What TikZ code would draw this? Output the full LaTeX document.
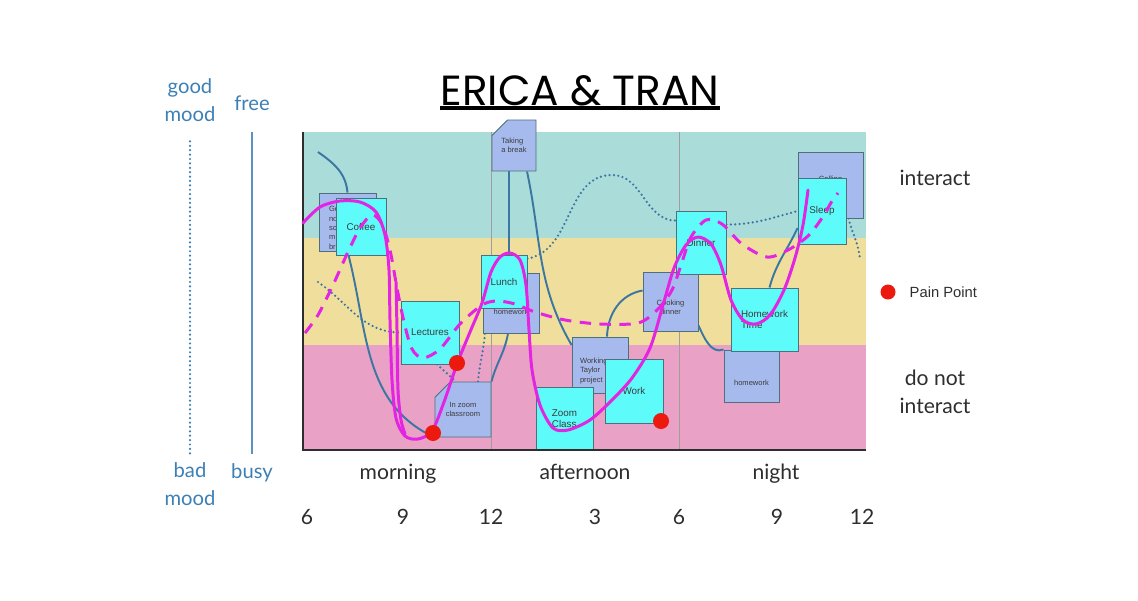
\documentclass[tikz,border=0pt]{standalone}
\usepackage{fontspec}
\setmainfont{Lato}
\newfontfamily\notefont{Liberation Sans}
\newfontfamily\titlefont{Poppins}
\definecolor{bandteal}{HTML}{AADCDA}
\definecolor{bandyellow}{HTML}{F0DF9C}
\definecolor{bandpink}{HTML}{E9A1C5}
\definecolor{notecyan}{HTML}{5EFBFB}
\definecolor{notelav}{HTML}{A6BAEE}
\definecolor{noteedge}{HTML}{4F6F7A}
\definecolor{notetext}{HTML}{3C3C3C}
\definecolor{curveblue}{HTML}{3B77A2}
\definecolor{labelblue}{HTML}{3D80B6}
\definecolor{inkpink}{HTML}{E324E3}
\definecolor{painred}{HTML}{EC1A0E}
\definecolor{axistext}{HTML}{2E2E2E}
\definecolor{sepgray}{gray}{0.62}
\usetikzlibrary{positioning, shapes.misc}
\pgfdeclarelayer{bands}
\pgfdeclarelayer{lines}
\pgfdeclarelayer{ink}
\pgfsetlayers{bands,lines,main,ink}

\begin{document}
\begin{tikzpicture}[x=0.02cm, y=-0.02cm,
	note/.style={draw=noteedge, line width=0.5pt, inner sep=0pt, align=center, text=notetext, font=\notefont\fontsize{5.6}{6.6}\selectfont},
	notesize/.style 2 args={minimum width=#1*0.02cm, minimum height=#2*0.02cm},
	cyannote/.style={note, fill=notecyan},
	lavnote/.style={note, fill=notelav, font=\notefont\fontsize{4.3}{5.3}\selectfont},
	cutnote/.style={lavnote, chamfered rectangle, chamfered rectangle corners=#1, chamfered rectangle sep=0.16cm},
	notelabel/.style={inner sep=0pt, align=center, text=notetext, font=\notefont\fontsize{4.3}{5.3}\selectfont},
	busyline/.style={curveblue, line width=1.1pt},
	moodline/.style={curveblue, line width=1.4pt, line cap=round, dash pattern=on 0pt off 2.5pt},
	inkline/.style={inkpink, line width=1.7pt, line cap=round, line join=round},
	inkdash/.style={inkline, line cap=butt, dash pattern=on 6.5pt off 4.8pt},
	painpoint/.style={circle, fill=painred, inner sep=0pt, minimum size=16*0.02cm},
	axislabel/.style={text=axistext, font=\fontsize{12}{16}\selectfont, inner sep=0pt},
	sidelabel/.style={text=labelblue, align=center, font=\fontsize{11.5}{16}\selectfont, inner sep=0pt}]

\def \px{0.02cm}

\useasboundingbox (0,0) rectangle (1138,600);

\begin{pgfonlayer}{bands}
\fill[white] (0,0) rectangle (1138,600);
\foreach \ytop/\ybot/\col in {132/238/bandteal, 238/345/bandyellow, 345/450/bandpink}
	\fill[\col] (303,\ytop) rectangle (866,\ybot); % interact bands
\foreach \x in {491, 679}
	\draw[sepgray, thin] (\x,132) -- (\x,450); % part of day
\end{pgfonlayer}

% title
\node[font=\titlefont\fontsize{24}{27}\selectfont, inner sep=0pt, anchor=base] (title) at (580,105) {ERICA \& TRAN};
\draw[line width=2.3pt] ([yshift=-3*\px]title.base west) -- ([yshift=-3*\px]title.base east);

% mood / busy scales
\node[sidelabel] (goodmood) at (190,100.5) {good\\mood};
\node[sidelabel] (free) at (252,103) {free};
\node[sidelabel] (badmood) at (190,484.5) {bad\\mood};
\node[sidelabel] (busy) at (252,473) {busy};
\draw[moodline, labelblue] ([yshift=-19*\px]goodmood.south) -- ([yshift=7*\px]badmood.north);
\draw[labelblue!85, line width=0.9pt] ([yshift=-21*\px]free.south) -- ([yshift=9*\px]busy.north);

% lavender notes
\node[cutnote=north west, notesize={57}{58}, label={[notelabel, text width=0.74cm, align=left, yshift=-6*\px]center:Ge\\no\\sc\\m\\br}] (getready) at (347.5,222) {};
\node[cutnote=north west, notesize={44}{51}, align=left] (takebreak) at (514,145.5) {Taking\\a break};
\node[cutnote=north west, notesize={56}{55}] (zoomroom) at (463,409.5) {In zoom\\classroom};
\node[lavnote, notesize={56}{60}, label={[notelabel, yshift=-9*\px]center:homework}] (hwnoon) at (511,303) {};
\node[cutnote=north west, notesize={56}{56}, label={[notelabel, text width=0.8cm, align=left, yshift=-6*\px]center:Working\\Taylor\\project}] (taylor) at (600,365) {};
\node[cutnote=north west, notesize={55}{59}, label={[notelabel, yshift=-6*\px]center:Cooking\\dinner}] (cooking) at (670.5,301.5) {};
\node[lavnote, notesize={55}{52}, label={[notelabel, yshift=-7*\px]center:homework}] (hwnight) at (751.5,376) {};
\node[cutnote=north east, notesize={65}{66}, label={[notelabel, yshift=5*\px]center:Calling}] (calling) at (830.5,185) {};

% cyan notes
\node[cyannote, notesize={50}{57}] (coffee) at (361,226.5) {Coffee};
\node[cyannote, notesize={58}{63}] (lectures) at (430,332.5) {Lectures};
\node[cyannote, notesize={46}{53}] (lunch) at (504,281.5) {Lunch};
\node[cyannote, notesize={57}{63}, align=left] (zoomclass) at (564.5,418.5) {Zoom\\Class};
\node[cyannote, notesize={58}{64}] (work) at (634,391) {Work};
\node[cyannote, notesize={50}{63}] (dinner) at (701,242.5) {Dinner};
\node[cyannote, notesize={67}{63}, align=left] (hwtime) at (764.5,319.5) {Homework\\Time};
\node[cyannote, notesize={48}{66}] (sleep) at (822,211) {Sleep};

\draw[axistext, line width=1.2pt] (303,132) -- (303,450) -- (866,450); % axes

% free/busy line and mood line
\coordinate (freestart) at (318,152);
\coordinate (moodstart) at (318,282);
\coordinate (moodpeak) at (612,175);
\coordinate (moodend) at (860,260);
\begin{pgfonlayer}{lines}
\draw[busyline] (freestart) to[out=-35, in=95] (getready.north);
\draw[busyline] (getready.south) to[out=-75, in=155] (zoomroom.south west);
\draw[busyline] (zoomroom.north east) to[out=75, in=-100] ([xshift=-3*\px]hwnoon.south);
\draw[busyline] ([xshift=5*\px]lunch.north) -- ([xshift=-5*\px]takebreak.south);
\draw[busyline] ([xshift=13*\px]takebreak.south) to[out=-78, in=120] ([yshift=20*\px]taylor.west);
\draw[busyline] ([xshift=7*\px]taylor.north) to[out=88, in=190] ([yshift=11*\px]cooking.west);
\draw[busyline] ([yshift=6*\px]cooking.south east) to[out=-65, in=200] (hwnight.north west);
\draw[busyline] ([xshift=5*\px]hwtime.north) to[out=75, in=-115] ([yshift=-17*\px]sleep.west);

\draw[moodline] (moodstart) to[out=-35, in=180] (lectures.west);
\draw[moodline] ([xshift=7*\px]lectures.south) -- ([xshift=-7*\px]zoomroom.north);
\draw[moodline] ([xshift=15*\px]zoomroom.north) to[out=85, in=-95] ([xshift=-26*\px]hwnoon.south);
\draw[moodline] ([yshift=-4*\px]lunch.north east) to[out=10, in=180] (moodpeak) to[out=0, in=180] ([yshift=22*\px]dinner.west);
\draw[moodline] ([yshift=18*\px]dinner.east) to[out=0, in=-165] (sleep.west);
\draw[moodline] ([xshift=-15*\px]calling.south east) to[out=-75, in=95] (moodend);
\end{pgfonlayer}

% hand drawn lines
\begin{pgfonlayer}{ink}
\draw[inkline] plot[smooth] coordinates {
	(303,223) (320,207) (340,201) (360,202) (376,212) (385,235) (389,270) (390,320)
	(392,380) (396,418) (405,436) (418,439) (432,431) (444,402) (457,364) (470,332)
	(482,303) (491,272) (500,257) (510,253) (520,260) (526,285) (529,330) (532,370)
	(540,405) (553,428) (568,430) (590,420) (612,400) (632,378) (650,348) (663,305)
	(674,268) (686,245) (698,237) (711,244) (721,265) (731,300) (743,320) (756,324)
	(770,315) (784,290) (795,258) (803,225) (808,190)};
\draw[inkline] plot[smooth] coordinates {(396,282) (397,330) (398,390) (401,420) (405,434)};
\draw[inkdash] plot[smooth] coordinates {
	(305,333) (318,315) (333,285) (347,254) (360,228) (372,215) (382,224) (390,250)
	(397,288) (404,322) (412,349) (423,358) (440,349) (460,324) (482,305) (497,301)
	(515,304) (535,312) (565,320) (600,324) (638,323) (657,310) (672,290) (682,262)
	(691,237) (706,220) (722,224) (742,244) (767,257) (788,250) (808,236) (822,218)
	(832,201) (838,193)};

\node[painpoint] (pain1) at (457,363) {};
\node[painpoint] (pain2) at (433,433) {};
\node[painpoint] (pain3) at (661,421) {};
\end{pgfonlayer}

% parts of day and hours
\foreach \x/\t [count=\i] in {398/morning, 585/afternoon, 776/night}
	\node[axislabel, anchor=base] (day\i) at (\x,479) {\t};
\foreach \x/\h [count=\i] in {307/6, 403/9, 491/12, 595/3, 679/6, 777/9, 862/12}
	\node[axislabel, anchor=base] (hour\i) at (\x,524) {\h};

% right side
\node[axislabel, anchor=base] (interact) at (935,185) {interact};
\node[axislabel, align=center] (nointeract) at (935,392) {do not\\interact};
\node[painpoint, minimum size=15*\px] (legenddot) at (888,292) {};
\node[inner sep=0pt, right=0.27cm of legenddot, text=axistext, font=\notefont\fontsize{8.4}{10}\selectfont] (legendtext) {Pain Point};

\end{tikzpicture}
\end{document}
